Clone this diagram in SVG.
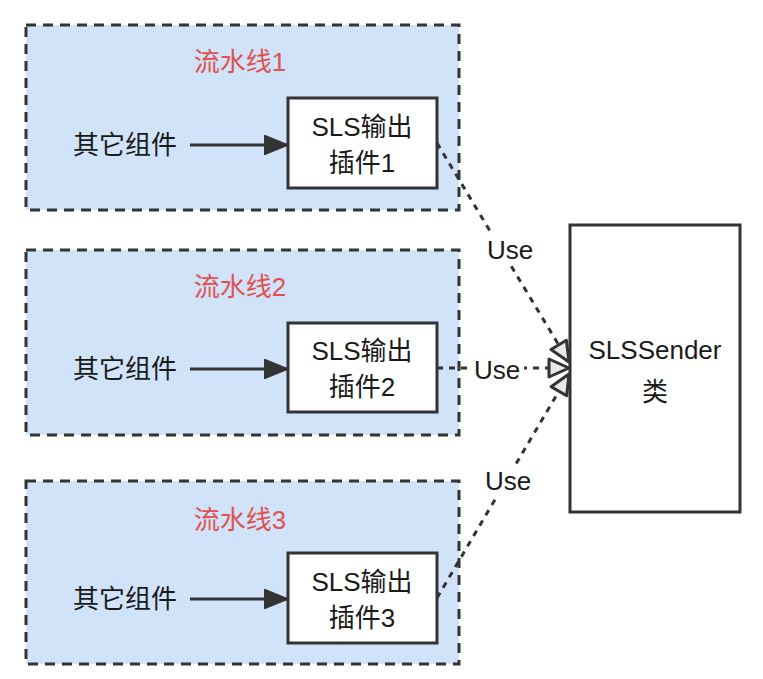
<svg xmlns="http://www.w3.org/2000/svg" width="763" height="679" viewBox="0 0 763 679">
<defs>
<style>
.pipe{fill:#d0e3f9;stroke:#333;stroke-width:3;stroke-dasharray:10 7}
.box{fill:#fff;stroke:#333;stroke-width:3}
.t{font-family:"Liberation Sans","Noto Sans CJK SC",sans-serif;font-size:26px;fill:#1a1a1a;text-anchor:middle}
.red{fill:#e0524f}
.flow{stroke:#333;stroke-width:3;fill:none}
.use{stroke:#333;stroke-width:3;fill:none;stroke-dasharray:6 6}
.lbl{fill:#fff}
</style>
<marker id="solidBig" markerWidth="24" markerHeight="20" refX="23" refY="10" orient="auto" markerUnits="userSpaceOnUse" viewBox="0 0 24 20">
<path d="M1,1 L23,10 L1,19 Z" fill="#333" stroke="#333" stroke-width="2"/>
</marker>
<marker id="hollow" markerWidth="24" markerHeight="22" refX="22" refY="11" orient="auto" markerUnits="userSpaceOnUse" viewBox="0 0 24 22">
<path d="M2,2 L22,11 L2,20 Z" fill="#e8e8e8" stroke="#333" stroke-width="3" stroke-linejoin="round"/>
</marker>
</defs>
<rect width="763" height="679" fill="#fff"/>

<g id="pipeline1">
<rect class="pipe" x="26" y="25" width="433" height="185"/>
<text class="t red" x="240" y="71">流水线1</text>
<text class="t" x="125" y="154">其它组件</text>
</g>
<g id="pipeline2">
<rect class="pipe" x="26" y="250" width="433" height="185"/>
<text class="t red" x="240" y="296">流水线2</text>
<text class="t" x="125" y="378">其它组件</text>
</g>
<g id="pipeline3">
<rect class="pipe" x="26" y="481" width="433" height="183"/>
<text class="t red" x="240" y="529">流水线3</text>
<text class="t" x="125" y="608">其它组件</text>
</g>

<g id="plugin1">
<rect class="box" x="288" y="98" width="149" height="90"/>
<text class="t" x="362" y="136">SLS输出</text>
<text class="t" x="362" y="172">插件1</text>
</g>
<g id="plugin2">
<rect class="box" x="288" y="323" width="149" height="89"/>
<text class="t" x="362" y="360">SLS输出</text>
<text class="t" x="362" y="396">插件2</text>
</g>
<g id="plugin3">
<rect class="box" x="288" y="553" width="149" height="90"/>
<text class="t" x="362" y="591">SLS输出</text>
<text class="t" x="362" y="627">插件3</text>
</g>

<g id="slssender">
<rect class="box" x="570" y="225" width="170" height="287"/>
<text class="t" x="655" y="359">SLSSender</text>
<text class="t" x="655" y="401">类</text>
</g>

<g id="connectors">
<line class="flow" x1="190" y1="145" x2="287" y2="145" marker-end="url(#solidBig)"/>
<line class="flow" x1="190" y1="369" x2="287" y2="369" marker-end="url(#solidBig)"/>
<line class="flow" x1="190" y1="599" x2="287" y2="599" marker-end="url(#solidBig)"/>

<line class="use" x1="437" y1="143" x2="569" y2="362" marker-end="url(#hollow)"/>
<line class="use" x1="437" y1="368" x2="569" y2="368" marker-end="url(#hollow)"/>
<line class="use" x1="437" y1="598" x2="569" y2="374" marker-end="url(#hollow)"/>

<rect class="lbl" x="483" y="234" width="54" height="30"/>
<text class="t" x="510" y="259">Use</text>
<rect class="lbl" x="470" y="354" width="54" height="30"/>
<text class="t" x="497" y="379">Use</text>
<rect class="lbl" x="481" y="465" width="54" height="30"/>
<text class="t" x="508" y="490">Use</text>
</g>
</svg>
